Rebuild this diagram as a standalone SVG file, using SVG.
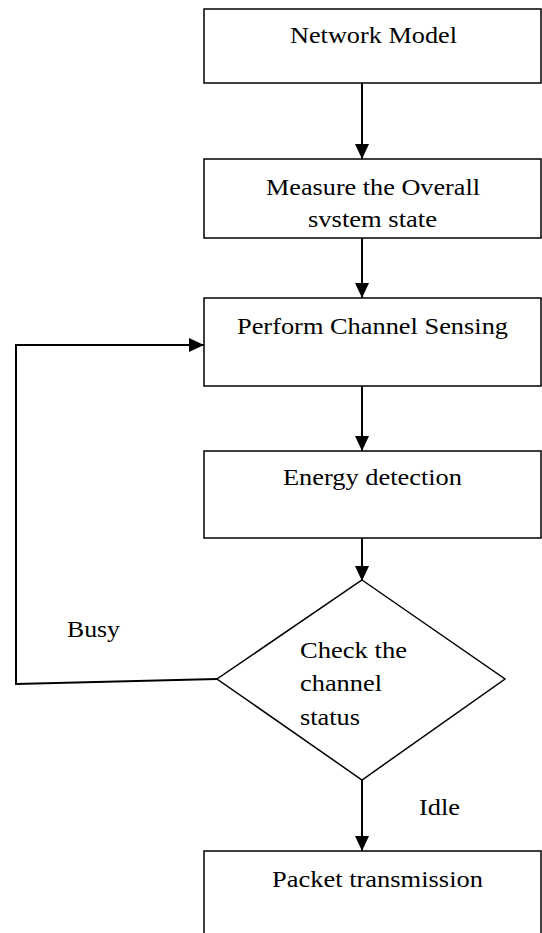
<svg xmlns="http://www.w3.org/2000/svg" width="542" height="933" viewBox="0 0 542 933">
<defs>
<style>
.box{fill:#fff;stroke:#000;stroke-width:1.5}
.t{font-family:"Liberation Serif","Times New Roman",serif;font-size:23px;fill:#000}
.c{fill:none;stroke:#000;stroke-width:2}
</style>
<marker id="ah" markerWidth="16" markerHeight="16" viewBox="0 0 16 16" refX="15" refY="8" orient="auto" markerUnits="userSpaceOnUse">
<path d="M0,1 L15,8 L0,15 Z" fill="#000"/>
</marker>
</defs>
<rect width="542" height="933" fill="#fff"/>
<g id="connectors">
<line class="c" x1="362" y1="83" x2="362" y2="159" marker-end="url(#ah)"/>
<line class="c" x1="362" y1="238" x2="362" y2="298" marker-end="url(#ah)"/>
<line class="c" x1="362" y1="386" x2="362" y2="451" marker-end="url(#ah)"/>
<line class="c" x1="362" y1="538" x2="362" y2="581" marker-end="url(#ah)"/>
<line class="c" x1="362" y1="780" x2="362" y2="851" marker-end="url(#ah)"/>
<polyline class="c" points="217,679 16,684 16,345 204,345" marker-end="url(#ah)"/>
<text class="t" x="67" y="637" textLength="53" lengthAdjust="spacingAndGlyphs">Busy</text>
<text class="t" x="419" y="815" textLength="41" lengthAdjust="spacingAndGlyphs">Idle</text>
</g>
<g id="n1">
<rect class="box" x="204" y="9" width="337" height="74"/>
<text class="t" x="290" y="43" textLength="167" lengthAdjust="spacingAndGlyphs">Network Model</text>
</g>
<g id="n2">
<rect class="box" x="204" y="159" width="337" height="79"/>
<text class="t" x="266" y="195" textLength="214" lengthAdjust="spacingAndGlyphs">Measure the Overall</text>
<text class="t" x="308" y="227" textLength="129" lengthAdjust="spacingAndGlyphs">svstem state</text>
</g>
<g id="n3">
<rect class="box" x="204" y="298" width="337" height="88"/>
<text class="t" x="237" y="334" textLength="271" lengthAdjust="spacingAndGlyphs">Perform Channel Sensing</text>
</g>
<g id="n4">
<rect class="box" x="204" y="451" width="337" height="87"/>
<text class="t" x="283" y="485" textLength="179" lengthAdjust="spacingAndGlyphs">Energy detection</text>
</g>
<g id="n5">
<polygon class="box" points="362,580 505,679 362,780 217,679"/>
<text class="t" x="300" y="658" textLength="107" lengthAdjust="spacingAndGlyphs">Check the</text>
<text class="t" x="300" y="691" textLength="82" lengthAdjust="spacingAndGlyphs">channel</text>
<text class="t" x="300" y="725" textLength="60" lengthAdjust="spacingAndGlyphs">status</text>
</g>
<g id="n6">
<rect class="box" x="204" y="851" width="337" height="100"/>
<text class="t" x="272" y="887" textLength="211" lengthAdjust="spacingAndGlyphs">Packet transmission</text>
</g>
</svg>
